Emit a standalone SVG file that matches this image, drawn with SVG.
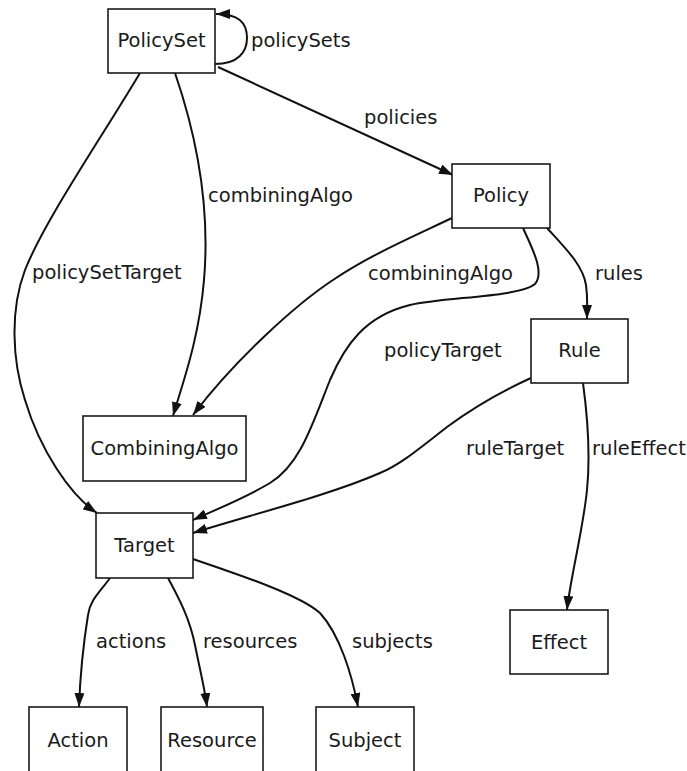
<svg xmlns="http://www.w3.org/2000/svg" width="687" height="771" viewBox="0 0 687 771">
<style>
  .box { fill: #ffffff; stroke: #1a1a1a; stroke-width: 1.6; }
  .lbl { font-family: "DejaVu Sans", "Liberation Sans", sans-serif; font-size: 19.5px; fill: #1a1a1a; }
  .node { text-anchor: middle; }
  .edge { fill: none; stroke: #111111; stroke-width: 2; marker-end: url(#arrow); }
</style>
<defs>
  <marker id="arrow" markerUnits="userSpaceOnUse" markerWidth="15" markerHeight="10" refX="14" refY="5" orient="auto">
    <path d="M0,0 L14,5 L0,10 z" fill="#111111"/>
  </marker>
</defs>
<rect width="687" height="771" fill="#ffffff"/>

<g id="connectors">
  <path class="edge" d="M215,64 C238,64 247,52 247,38 C247,22 238,14 216,14"/>
  <path class="edge" d="M218,67 L453,175"/>
  <path class="edge" d="M175,73 C198,140 210,210 204,280 C199,340 182,385 173,416"/>
  <path class="edge" d="M140,73 C100,140 45,220 25,270 C10,310 12,360 25,400 C40,450 70,495 97,513"/>
  <path class="edge" d="M452,218 C410,238 370,255 333,280 C295,305 235,360 193,415"/>
  <path class="edge" d="M523,228 C532,248 545,272 535,284 C520,297 445,297 410,305 C365,316 345,345 330,380 C312,425 300,465 270,483 C245,498 215,510 193,520"/>
  <path class="edge" d="M547,228 C565,248 583,265 586,285 C588,300 587,310 587,319"/>
  <path class="edge" d="M531,378 C500,392 470,410 447,427 C420,448 400,465 380,473 C330,495 250,515 193,533"/>
  <path class="edge" d="M583,383 C588,420 590,460 587,490 C583,530 570,580 567,610"/>
  <path class="edge" d="M110,578 C100,592 90,600 88,615 C84,640 80,680 79,707"/>
  <path class="edge" d="M168,578 C180,600 190,620 195,645 C200,670 205,690 207,707"/>
  <path class="edge" d="M193,559 C240,575 300,595 320,613 C340,635 352,675 358,707"/>

  <text class="lbl" x="251" y="47">policySets</text>
  <text class="lbl" x="364" y="124">policies</text>
  <text class="lbl" x="208" y="202">combiningAlgo</text>
  <text class="lbl" x="32" y="279">policySetTarget</text>
  <text class="lbl" x="368" y="280">combiningAlgo</text>
  <text class="lbl" x="595" y="280">rules</text>
  <text class="lbl" x="384" y="357">policyTarget</text>
  <text class="lbl" x="466" y="455">ruleTarget</text>
  <text class="lbl" x="592" y="455">ruleEffect</text>
  <text class="lbl" x="96" y="648">actions</text>
  <text class="lbl" x="203" y="648">resources</text>
  <text class="lbl" x="352" y="648">subjects</text>
</g>

<g id="PolicySet"><rect class="box" x="108" y="9" width="107" height="64"/><text class="lbl node" x="161.5" y="47">PolicySet</text></g>
<g id="Policy"><rect class="box" x="452" y="164" width="98" height="64"/><text class="lbl node" x="501" y="202">Policy</text></g>
<g id="Rule"><rect class="box" x="531" y="319" width="97" height="64"/><text class="lbl node" x="579.5" y="357">Rule</text></g>
<g id="CombiningAlgo"><rect class="box" x="83" y="416" width="163" height="65"/><text class="lbl node" x="164.5" y="455">CombiningAlgo</text></g>
<g id="Target"><rect class="box" x="96" y="513" width="97" height="65"/><text class="lbl node" x="144.5" y="552">Target</text></g>
<g id="Effect"><rect class="box" x="510" y="610" width="98" height="64"/><text class="lbl node" x="559" y="649">Effect</text></g>
<g id="Action"><rect class="box" x="29" y="707" width="98" height="70"/><text class="lbl node" x="78" y="747">Action</text></g>
<g id="Resource"><rect class="box" x="161" y="707" width="102" height="70"/><text class="lbl node" x="212" y="747">Resource</text></g>
<g id="Subject"><rect class="box" x="316" y="707" width="98" height="70"/><text class="lbl node" x="365" y="747">Subject</text></g>
</svg>
